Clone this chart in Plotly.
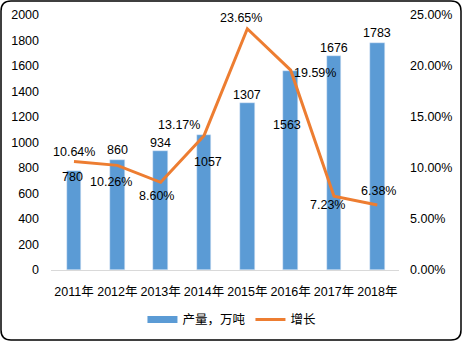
import plotly.graph_objects as go

years = ["2011年", "2012年", "2013年", "2014年", "2015年", "2016年", "2017年", "2018年"]
output = [780, 860, 934, 1057, 1307, 1563, 1676, 1783]
growth = [10.64, 10.26, 8.60, 13.17, 23.65, 19.59, 7.23, 6.38]

# label offsets in pixels (xshift, yshift) relative to each mark
bar_off = [(-2, -6), (0, 10), (0, 8), (4, -27), (0, 8), (-4, -54), (0, 8), (0, 10)]
line_off = [(0, 9), (-6, -17), (-4, -14), (-25, 11), (-6, 11), (24, -3), (-7, -9), (1, 14)]

FONT = "Liberation Sans, Arial, Noto Sans CJK SC"
BLUE = "#5B9BD5"
ORANGE = "#ED7D31"
FS = 12.5

fig = go.Figure()
fig.add_trace(go.Bar(x=years, y=output, name="产量，万吨", marker_color=BLUE, width=0.34,
                     showlegend=False))
# legend proxy for the bar series (wide flat swatch like the original)
fig.add_trace(go.Scatter(x=[None], y=[None], name="产量，万吨", mode="lines",
                         line=dict(color=BLUE, width=7)))
fig.add_trace(go.Scatter(x=years, y=[g / 100 for g in growth], name="增长", yaxis="y2",
                         mode="lines", line=dict(color=ORANGE, width=3)))

ann = []
for i, (yr, v) in enumerate(zip(years, output)):
    dx, dy = bar_off[i]
    ann.append(dict(x=yr, y=v, xref="x", yref="y", text=str(v), showarrow=False,
                    xshift=dx, yshift=dy, font=dict(size=FS, color="#000")))
for i, (yr, g) in enumerate(zip(years, growth)):
    dx, dy = line_off[i]
    ann.append(dict(x=yr, y=g / 100, xref="x", yref="y2", text=f"{g:.2f}%", showarrow=False,
                    xshift=dx, yshift=dy, font=dict(size=FS, color="#000")))

L, R, T, B = 51, 63, 15, 71
W, H = 462, 341
pw, ph = W - L - R, H - T - B


def X(px):
    return (px - L) / pw


def Y(py):
    return (H - B - py) / ph


x0, x1, y0, y1, r = 1, 461, 1, 340, 10
path = (f"M {X(x0+r)},{Y(y0)} L {X(x1-r)},{Y(y0)} Q {X(x1)},{Y(y0)} {X(x1)},{Y(y0+r)} "
        f"L {X(x1)},{Y(y1-r)} Q {X(x1)},{Y(y1)} {X(x1-r)},{Y(y1)} "
        f"L {X(x0+r)},{Y(y1)} Q {X(x0)},{Y(y1)} {X(x0)},{Y(y1-r)} "
        f"L {X(x0)},{Y(y0+r)} Q {X(x0)},{Y(y0)} {X(x0+r)},{Y(y0)} Z")

fig.update_layout(
    width=W, height=H,
    margin=dict(l=L, r=R, t=T, b=B, autoexpand=False),
    paper_bgcolor="white", plot_bgcolor="white",
    font=dict(family=FONT, size=FS, color="#000"),
    bargap=0,
    xaxis=dict(showline=True, linecolor="#D9D9D9", linewidth=1, ticks="", showgrid=False,
               tickfont=dict(size=FS), ticklabelstandoff=10, automargin=False),
    yaxis=dict(range=[0, 2000], dtick=200, showgrid=False, zeroline=False, ticks="",
               showline=False, tickfont=dict(size=FS), ticklabelstandoff=11, automargin=False),
    yaxis2=dict(range=[0, 0.25], dtick=0.05, tickformat=".2%", overlaying="y", side="right",
                showgrid=False, zeroline=False, ticks="", showline=False, tickfont=dict(size=FS),
                ticklabelstandoff=10, automargin=False),
    legend=dict(orientation="h", x=0.52, xanchor="center", y=-0.196, yanchor="middle",
                font=dict(size=FS)),
    annotations=ann,
    shapes=[dict(type="path", path=path, xref="paper", yref="paper",
                 line=dict(color="#000", width=1.5), layer="above")],
    showlegend=True,
)

fig.write_html("out.html")
